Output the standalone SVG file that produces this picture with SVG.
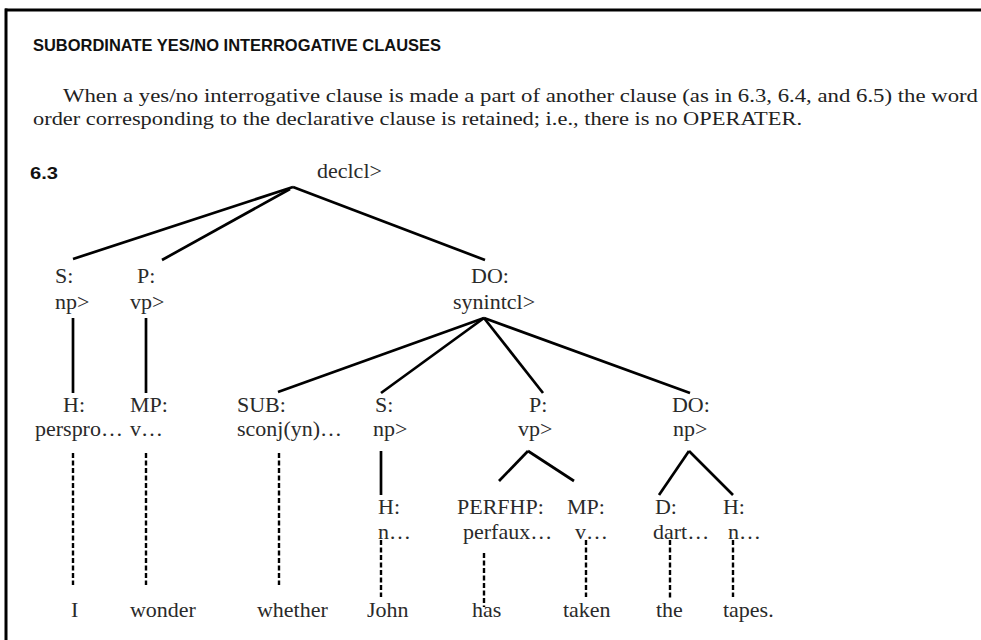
<svg xmlns="http://www.w3.org/2000/svg" width="981" height="640" viewBox="0 0 981 640">
<style>
.t{font-family:"Liberation Serif","Times New Roman",serif;font-size:20px;fill:#2a2a2a;transform-box:fill-box;transform-origin:0 0;transform:scaleX(1.1)}
.p{font-family:"Liberation Serif","Times New Roman",serif;font-size:19px;fill:#222}
.h{font-family:"Liberation Sans",Arial,sans-serif;font-weight:bold;fill:#111}
.e{stroke:#000;stroke-width:2.7;fill:none}
.d{stroke:#000;stroke-width:2.4;fill:none;stroke-dasharray:5 2.5}
</style>
<rect width="981" height="640" fill="#fff"/>
<g id="frame">
<line x1="5" y1="10" x2="981" y2="10" stroke="#000" stroke-width="3"/>
<line x1="6" y1="8.5" x2="6" y2="640" stroke="#000" stroke-width="3"/>
</g>
<g id="header">
<text class="h" x="33" y="51" font-size="16.5" textLength="408" lengthAdjust="spacingAndGlyphs">SUBORDINATE YES/NO INTERROGATIVE CLAUSES</text>
<text class="p" x="63" y="102" textLength="915" lengthAdjust="spacingAndGlyphs">When a yes/no interrogative clause is made a part of another clause (as in 6.3, 6.4, and 6.5) the word</text>
<text class="p" x="33" y="125" textLength="769" lengthAdjust="spacingAndGlyphs">order corresponding to the declarative clause is retained; i.e., there is no OPERATER.</text>
<text class="h" x="30" y="179" font-size="17" textLength="28" lengthAdjust="spacingAndGlyphs">6.3</text>
</g>
<g id="connectors">
<line class="e" x1="293" y1="187" x2="73" y2="259"/>
<line class="e" x1="290" y1="189" x2="162" y2="260"/>
<line class="e" x1="293" y1="187" x2="485" y2="260"/>
<line class="e" x1="73" y1="318" x2="73" y2="393"/>
<line class="e" x1="146" y1="318" x2="146" y2="393"/>
<line class="e" x1="484" y1="318" x2="278" y2="392"/>
<line class="e" x1="484" y1="318" x2="381" y2="393"/>
<line class="e" x1="484" y1="318" x2="543" y2="393"/>
<line class="e" x1="484" y1="318" x2="690" y2="393"/>
<line class="e" x1="381" y1="451" x2="381" y2="495"/>
<line class="e" x1="528" y1="451" x2="499" y2="481"/>
<line class="e" x1="528" y1="451" x2="574" y2="481"/>
<line class="e" x1="689" y1="451" x2="659" y2="495"/>
<line class="e" x1="689" y1="451" x2="733" y2="495"/>
<line class="d" x1="73" y1="453" x2="73" y2="585"/>
<line class="d" x1="146" y1="453" x2="146" y2="585"/>
<line class="d" x1="279" y1="453" x2="279" y2="585"/>
<line class="d" x1="381" y1="540" x2="381" y2="597"/>
<line class="d" x1="484" y1="553" x2="484" y2="607"/>
<line class="d" x1="586" y1="540" x2="586" y2="597"/>
<line class="d" x1="670" y1="540" x2="670" y2="599"/>
<line class="d" x1="733" y1="540" x2="733" y2="597"/>
</g>
<g id="n-declcl"><text class="t" x="317" y="178">declcl&gt;</text></g>
<g id="n-S"><text class="t" x="55" y="283">S:</text><text class="t" x="55" y="309">np&gt;</text></g>
<g id="n-P"><text class="t" x="137" y="283">P:</text><text class="t" x="130" y="309">vp&gt;</text></g>
<g id="n-DO"><text class="t" x="471" y="283">DO:</text><text class="t" x="453" y="309">synintcl&gt;</text></g>
<g id="n-H1"><text class="t" x="63" y="412">H:</text><text class="t" x="35" y="436">perspro…</text></g>
<g id="n-MP1"><text class="t" x="130" y="412">MP:</text><text class="t" x="130" y="436">v…</text></g>
<g id="n-SUB"><text class="t" x="237" y="412">SUB:</text><text class="t" x="237" y="436">sconj(yn)…</text></g>
<g id="n-S2"><text class="t" x="375" y="412">S:</text><text class="t" x="373" y="436">np&gt;</text></g>
<g id="n-P2"><text class="t" x="529" y="412">P:</text><text class="t" x="518" y="436">vp&gt;</text></g>
<g id="n-DO2"><text class="t" x="672" y="412">DO:</text><text class="t" x="673" y="436">np&gt;</text></g>
<g id="n-H2"><text class="t" x="378" y="514">H:</text><text class="t" x="378" y="539">n…</text></g>
<g id="n-PERFHP"><text class="t" x="457" y="514">PERFHP:</text><text class="t" x="463" y="539">perfaux…</text></g>
<g id="n-MP2"><text class="t" x="567" y="514">MP:</text><text class="t" x="575" y="539">v…</text></g>
<g id="n-D"><text class="t" x="655" y="514">D:</text><text class="t" x="653" y="539">dart…</text></g>
<g id="n-H3"><text class="t" x="723" y="514">H:</text><text class="t" x="728" y="539">n…</text></g>
<g id="words">
<text class="t" x="71" y="617">I</text>
<text class="t" x="130" y="617">wonder</text>
<text class="t" x="257" y="617">whether</text>
<text class="t" x="367" y="617">John</text>
<text class="t" x="472" y="617">has</text>
<text class="t" x="563" y="617">taken</text>
<text class="t" x="656" y="617">the</text>
<text class="t" x="723" y="617">tapes.</text>
</g>
</svg>
